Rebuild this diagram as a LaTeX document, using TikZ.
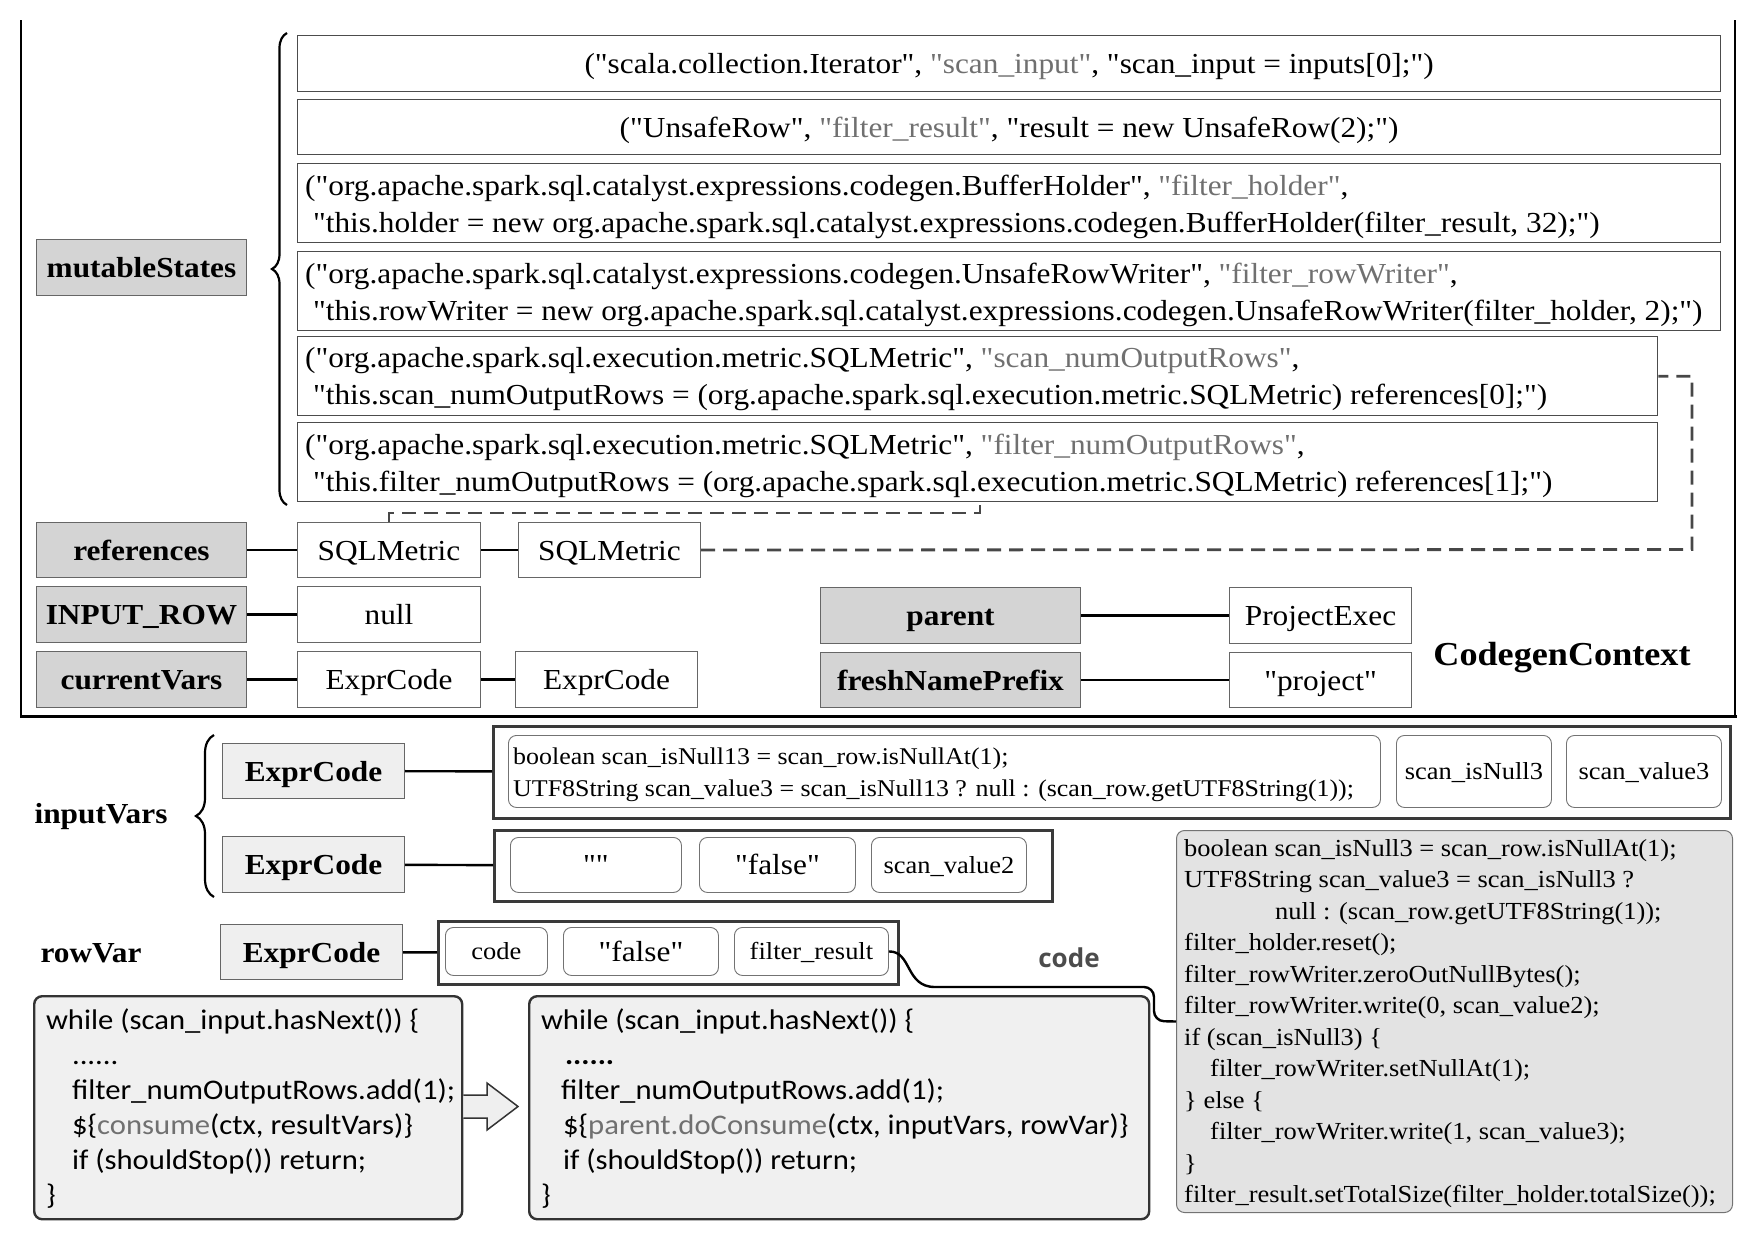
\documentclass[tikz,border=0pt]{standalone}
\usepackage{fontspec}
\setmainfont{Liberation Serif}[FakeStretch=1.08, Ligatures=TeXOff]
\newfontfamily\calib{Carlito}[FakeStretch=1.08, Ligatures=TeXOff]
\newfontfamily\osans{Open Sans}
\usetikzlibrary{decorations.pathreplacing}
\definecolor{lblgray}{HTML}{D4D4D4}
\definecolor{ecgray}{HTML}{EFEFEF}
\definecolor{bigbox}{HTML}{E3E3E3}
\definecolor{codebox}{HTML}{F0F0F0}
\definecolor{txtgray}{HTML}{707070}
\definecolor{framegray}{HTML}{3A3A3A}
\newcommand\fbig{\fontsize{29}{37}\selectfont}
\newcommand\fsmall{\fontsize{24.5}{29}\selectfont}
\newcommand\gq[1]{\textcolor{txtgray}{"#1"}}
\newcommand\bx[6]{\node[inner sep=0pt, #6, anchor=north west, minimum width={(#4)-(#2)}, minimum height={(#5)-(#3)}] (#1) at (#2,#3)}
\begin{document}
\begin{tikzpicture}[x=1pt,y=-1pt,
  bigt/.style={font=\fbig, text height=20pt, text depth=0pt},
  smallt/.style={font=\fsmall, text height=17pt, text depth=0pt},
  lbl/.style={draw=black!60, line width=1pt, fill=lblgray, bigt, font=\bfseries\fbig},
  val/.style={draw=black!60, line width=1pt, fill=white, bigt},
  rowbox/.style={draw=black!70, line width=1.3pt, bigt},
  rowt/.style={anchor=west, align=left, inner sep=0pt, font=\fbig},
  ecb/.style={draw=black!60, line width=1pt, fill=ecgray, bigt, font=\bfseries\fbig},
  frame/.style={draw=framegray, line width=3.2pt},
  ibox/.style={draw=black!55, line width=0.9pt, rounded corners=8pt, fill=white},
  conn/.style={line width=2.4pt, black},
  dashline/.style={line width=2.8pt, draw=black!72, dash pattern=on 14pt off 8pt},
  brace/.style={line width=2.2pt, decorate},
  codeb/.style={draw=black!80, line width=2.4pt, rounded corners=8pt, fill=codebox},
  codet/.style={anchor=west, align=left, font=\calib\fontsize{28.4}{35}\selectfont}
]
\useasboundingbox (0,0) rectangle (1755,1232);

% outer CodegenContext frame (open at top)
\draw[line width=2pt] (21,20) -- (21,716);
\draw[line width=2pt] (1735,20) -- (1735,716);
\draw[line width=3pt] (20,716) -- (1736.5,716);

% mutableStates
\bx{ms}{36}{239}{246}{295}{lbl}{mutableStates};
\draw[brace, decoration={brace, amplitude=15pt}] (287,505) -- (287,33);

\bx{r1}{297}{35}{1720}{91}{rowbox}{("scala.collection.Iterator", \gq{scan\_input}, "scan\_input = inputs[0];")};
\bx{r2}{297}{99}{1720}{154}{rowbox}{("UnsafeRow", \gq{filter\_result}, "result = new UnsafeRow(2);")};
\bx{r3}{297}{163}{1720}{242}{rowbox}{};
\bx{r4}{297}{251}{1720}{330}{rowbox}{};
\bx{r5}{297}{336}{1657}{415}{rowbox}{};
\bx{r6}{297}{422}{1657}{501}{rowbox}{};
\node[rowt] (r3t) at ([xshift=8pt,yshift=-3.4pt]r3.west) {("org.apache.spark.sql.catalyst.expressions.codegen.BufferHolder", \gq{filter\_holder},\\
\ "this.holder = new org.apache.spark.sql.catalyst.expressions.codegen.BufferHolder(filter\_result, 32);")};
\node[rowt] (r4t) at ([xshift=8pt,yshift=-3.4pt]r4.west) {("org.apache.spark.sql.catalyst.expressions.codegen.UnsafeRowWriter", \gq{filter\_rowWriter},\\
\ "this.rowWriter = new org.apache.spark.sql.catalyst.expressions.codegen.UnsafeRowWriter(filter\_holder, 2);")};
\node[rowt] (r5t) at ([xshift=8pt,yshift=-3.4pt]r5.west) {("org.apache.spark.sql.execution.metric.SQLMetric", \gq{scan\_numOutputRows},\\
\ "this.scan\_numOutputRows = (org.apache.spark.sql.execution.metric.SQLMetric) references[0];")};
\node[rowt] (r6t) at ([xshift=8pt,yshift=-3.4pt]r6.west) {("org.apache.spark.sql.execution.metric.SQLMetric", \gq{filter\_numOutputRows},\\
\ "this.filter\_numOutputRows = (org.apache.spark.sql.execution.metric.SQLMetric) references[1];")};

% references / INPUT_ROW / currentVars
\bx{refs}{36}{522}{246}{577}{lbl}{references};
\bx{inrow}{36}{586}{246}{642}{lbl}{INPUT\_ROW};
\bx{cv}{36}{651}{246}{707}{lbl}{currentVars};
\bx{sm1}{297}{522}{480}{577}{val}{SQLMetric};
\bx{sm2}{518}{522}{700}{577}{val}{SQLMetric};
\bx{nul}{297}{586}{480}{642}{val}{null};
\bx{ec1}{297}{651}{480}{707}{val}{ExprCode};
\bx{ec2}{515}{651}{697}{707}{val}{ExprCode};
\bx{par}{820}{587}{1080}{643}{lbl}{parent};
\bx{fnp}{820}{652}{1080}{707}{lbl}{freshNamePrefix};
\bx{pe}{1229}{587}{1411}{643}{val}{ProjectExec};
\bx{prj}{1229}{652}{1411}{707}{val}{"project"};
\node[font=\bfseries\fontsize{33.5}{38}\selectfont, text height=24pt, text depth=0pt] (cc) at (1562,653) {CodegenContext};

\draw[conn] (refs) -- (sm1);
\draw[conn] (sm1) -- (sm2);
\draw[conn] (inrow) -- (nul);
\draw[conn] (cv) -- (ec1);
\draw[conn] (ec1) -- (ec2);
\draw[conn] (par) -- (pe);
\draw[conn] (fnp) -- (prj);

% dashed reference links
\coordinate (d1) at (980,513);
\coordinate (d2) at (1692,549.5);
\draw[dashline] (sm1.north) |- (d1) -- (r6.south -| d1);
\draw[dashline] (sm2.east) -- (d2) |- (r5.east);

% inputVars
\node[font=\bfseries\fbig] (iv) at (101,817) {inputVars};
\draw[brace, decoration={brace, amplitude=18pt}] (214,897) -- (214,735);
\bx{x1}{222}{743}{404}{798}{ecb}{ExprCode};
\bx{x2}{222}{836}{404}{892}{ecb}{ExprCode};
\bx{f1}{492}{725}{1729}{817}{frame}{};
\bx{f2}{493}{829}{1051}{900}{frame}{};
\bx{c1}{508}{735}{1380}{807}{ibox}{};
\node[anchor=west, align=left, inner sep=0pt, font=\fontsize{24}{32}\selectfont] (c1t) at ([xshift=5pt,yshift=-2.8pt]c1.west) {boolean scan\_isNull13 = scan\_row.isNullAt(1);\\UTF8String scan\_value3 = scan\_isNull13 ? null : (scan\_row.getUTF8String(1));};
\bx{c2}{1396}{735}{1551}{807}{ibox, smallt}{scan\_isNull3};
\bx{c3}{1566}{735}{1721}{807}{ibox, smallt}{scan\_value3};
\bx{d21}{510}{837}{681}{892}{ibox, bigt}{""};
\bx{d22}{699}{837}{855}{892}{ibox, bigt}{"false"};
\bx{d23}{871}{837}{1026}{892}{ibox, smallt}{scan\_value2};
\draw[conn] (x1) -- (f1);
\draw[conn] (x2) -- (f2);

% rowVar
\node[font=\bfseries\fbig] (rv) at (91,953) {rowVar};
\bx{x3}{220}{924}{402}{979}{ecb}{ExprCode};
\bx{f3}{437}{920}{897}{983}{frame}{};
\bx{g1}{445}{927}{547}{975}{ibox, smallt}{code};
\bx{g2}{563}{927}{718}{975}{ibox, bigt}{"false"};
\bx{fr}{734}{927}{888}{975}{ibox, smallt}{filter\_result};
\draw[conn] (x3) -- (f3);

\node[font=\osans\bfseries\fontsize{26}{30}\selectfont, text=black!70] (codelbl) at (1069,958) {code};

% big code box
\bx{bb}{1176}{830}{1732}{1212}{draw=black!55, line width=1pt, rounded corners=8pt, fill=bigbox}{};
\node[anchor=west, align=left, inner sep=0pt, font=\fontsize{24.5}{31.5}\selectfont] (bbt) at ([xshift=8pt,yshift=-2pt]bb.west) {boolean scan\_isNull3 = scan\_row.isNullAt(1);\\
UTF8String scan\_value3 = scan\_isNull3 ?\\
\hspace*{91pt}null : (scan\_row.getUTF8String(1));\\
filter\_holder.reset();\\
filter\_rowWriter.zeroOutNullBytes();\\
filter\_rowWriter.write(0, scan\_value2);\\
if (scan\_isNull3) \{\\
\hspace*{26pt}filter\_rowWriter.setNullAt(1);\\
\} else \{\\
\hspace*{26pt}filter\_rowWriter.write(1, scan\_value3);\\
\}\\
filter\_result.setTotalSize(filter\_holder.totalSize());};

\draw[conn, rounded corners=10pt] (fr.east) .. controls (912,951) and (905,987) .. (945,987) -- (1154,987) -- (1154,1021) -- (bb.west);

% bottom code boxes
\bx{lb}{33}{995}{461}{1218}{codeb}{};
\bx{rb}{528}{995}{1148}{1218}{codeb}{};
\node[codet] (lt) at (42.5,1109) {while (scan\_input.hasNext()) \{\\
\hspace*{26pt}......\\
\hspace*{26pt}filter\_numOutputRows.add(1);\\
\hspace*{26pt}\$\{\textcolor{txtgray}{consume}(ctx, resultVars)\}\\
\hspace*{26pt}if (shouldStop()) return;\\
\}};
\node[codet] (rt) at (537.5,1109) {while (scan\_input.hasNext()) \{\\
\hspace*{24pt}\textbf{......}\\
\hspace*{20pt}filter\_numOutputRows.add(1);\\
\hspace*{22pt}\$\{\textcolor{txtgray}{parent.doConsume}(ctx, inputVars, rowVar)\}\\
\hspace*{22pt}if (shouldStop()) return;\\
\}};
% hollow block arrow from the left code to the right code
\draw[line width=1.5pt, draw=black!80, fill=ecgray, line join=miter]
  (lb.east |- 0,1095) -- (487,1095) -- (487,1083) -- (518,1106.5) -- (487,1130) -- (487,1118) -- (lb.east |- 0,1118);
\end{tikzpicture}
\end{document}
